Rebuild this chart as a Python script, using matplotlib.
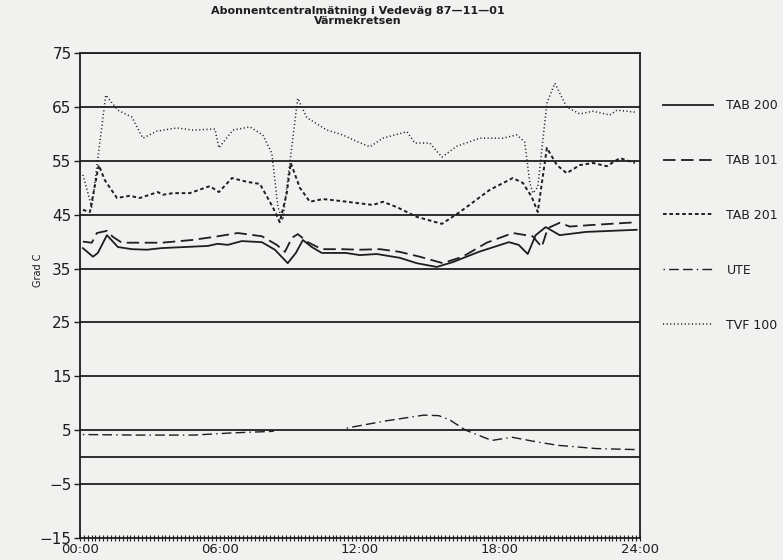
import numpy as np
import matplotlib
matplotlib.use("Agg")
import matplotlib.pyplot as plt
from matplotlib.ticker import MultipleLocator, FuncFormatter

plt.rcParams['lines.scale_dashes'] = False
plt.rcParams['font.family'] = ['DejaVu Sans']

# ---- data (hour of day, degrees C) ----
t_tvf = [0.13, 0.51, 1.11, 1.63, 2.23, 2.7, 3.3, 4.16, 4.84, 5.79, 5.96, 6.56, 7.29,
         7.84, 8.23, 8.49, 8.7, 9.34, 9.73, 10.59, 11.27, 11.92, 12.43, 12.99, 14.02,
         14.36, 15.0, 15.52, 16.16, 17.15, 18.13, 18.73, 19.07, 19.29, 19.42, 19.63,
         20.02, 20.36, 20.87, 21.43, 21.99, 22.72, 23.02, 23.87]
v_tvf = [52.4, 46.4, 67.2, 64.4, 63.1, 59.2, 60.5, 61.1, 60.7, 60.9, 57.4, 60.7, 61.3,
         59.8, 56.4, 46.4, 44.0, 66.6, 63.0, 60.7, 59.8, 58.5, 57.6, 59.2, 60.4,
         58.3, 58.3, 55.7, 57.7, 59.2, 59.2, 59.8, 58.5, 50.9, 49.0, 50.1,
         65.7, 69.4, 65.0, 63.7, 64.2, 63.5, 64.4, 64.0]

t_201 = [0.13, 0.43, 0.81, 1.07, 1.59, 2.14, 2.57, 3.34, 3.56, 3.99, 4.71, 5.57, 5.96,
         6.52, 7.16, 7.72, 8.27, 8.57, 8.87, 9.04, 9.43, 9.86, 10.42, 11.27, 12.56,
         12.99, 13.59, 14.44, 15.52, 16.29, 17.57, 18.56, 18.99, 19.37, 19.63, 20.02,
         20.45, 20.87, 21.43, 21.99, 22.59, 23.15, 23.79]
v_201 = [45.9, 45.5, 54.2, 51.4, 48.1, 48.5, 48.1, 49.2, 48.7, 49.0, 49.0, 50.3, 49.2,
         51.8, 51.1, 50.7, 46.4, 43.6, 49.0, 54.6, 50.0, 47.4, 47.9, 47.5, 46.8,
         47.4, 46.4, 44.6, 43.3, 45.5, 49.6, 51.8, 50.9, 48.3, 45.5, 57.4,
         54.2, 52.7, 54.2, 54.6, 54.0, 55.5, 54.6]

t_200 = [0.13, 0.56, 0.77, 1.16, 1.63, 2.23, 2.87, 3.51, 4.5, 5.49, 5.91, 6.34, 6.94,
         7.8, 8.36, 8.91, 9.26, 9.56, 9.94, 10.37, 11.4, 12.0, 12.73, 13.71, 14.44,
         15.3, 15.99, 17.1, 18.39, 18.81, 19.2, 19.54, 19.97, 20.57, 21.69, 23.87]
v_200 = [38.8, 37.2, 37.9, 41.2, 39.0, 38.6, 38.5, 38.8, 39.0, 39.2, 39.6, 39.4, 40.1,
         39.9, 38.5, 36.0, 37.9, 40.3, 39.0, 37.9, 37.9, 37.5, 37.7, 37.0, 36.0,
         35.3, 36.2, 38.1, 39.9, 39.4, 37.7, 41.2, 42.7, 41.2, 41.8, 42.2]

t_101 = [0.13, 0.51, 0.73, 1.16, 1.41, 1.8, 2.66, 3.51, 4.8, 5.79, 6.77, 7.8, 8.44,
         8.79, 9.09, 9.34, 9.77, 10.37, 11.23, 12.0, 12.86, 13.71, 14.57, 15.56,
         16.41, 17.44, 18.56, 19.41, 19.8, 20.06, 20.57, 21.0, 21.99, 23.87]
v_101 = [40.0, 39.8, 41.6, 42.0, 40.9, 39.8, 39.8, 39.8, 40.3, 40.9, 41.6, 41.0, 39.4,
         38.1, 40.7, 41.4, 39.9, 38.6, 38.6, 38.5, 38.6, 38.1, 37.2, 36.0,
         37.2, 39.8, 41.6, 41.0, 39.0, 42.5, 43.5, 42.8, 43.1, 43.6]

# outdoor temperature has a gap in the recording
t_ute = [0.13, 2.44, 4.89, 6.51, 8.31, np.nan, 11.44, 13.07, 14.74, 15.39, 15.86,
         16.54, 17.66, 18.52, 19.63, 20.49, 22.12, 23.91]
v_ute = [4.2, 4.1, 4.1, 4.5, 4.8, np.nan, 5.4, 6.7, 7.8, 7.7, 6.9,
         5.0, 3.1, 3.7, 2.8, 2.2, 1.6, 1.4]

gridvals = [75, 65, 55, 45, 35, 25, 15, 5, 0, -5]
yticks = [75, 65, 55, 45, 35, 25, 15, 5, -5, -15]
xticks = [0, 6, 12, 18, 24]

ink = '#1e1e1e'
paper = '#f1f1ef'

fig = plt.figure(figsize=(7.83, 5.6), dpi=100, facecolor=paper)
ax = fig.add_axes([0.102, 0.0393, 0.715, 0.866])
ax.set_facecolor(paper)

for g in gridvals:
    ax.axhline(g, color=ink, lw=1.3, zorder=1)

ax.plot(t_200, v_200, color=ink, lw=1.3, label='TAB 200')
ax.plot(t_101, v_101, color=ink, lw=1.3, dashes=(9, 4), label='TAB 101')
ax.plot(t_201, v_201, color=ink, lw=1.4, dashes=(2.6, 2.0), label='TAB 201')
ax.plot(t_ute, v_ute, color=ink, lw=1.0, dashes=(1, 3, 7, 3, 7, 3), label='UTE')
ax.plot(t_tvf, v_tvf, color=ink, lw=1.1, dashes=(0.8, 1.8), label='TVF 100')

ax.set_xlim(0, 24)
ax.set_ylim(-15, 75)
ax.set_yticks(yticks)
ax.set_xticks(xticks)
ax.xaxis.set_minor_locator(MultipleLocator(1 / 6))
ax.xaxis.set_major_formatter(FuncFormatter(lambda v, p: '%02d:00' % int(v)))
ax.tick_params(axis='y', direction='out', length=4, width=1, colors=ink, labelsize=11, pad=2)
ax.tick_params(axis='x', which='both', direction='inout', length=5, width=0.8,
               colors=ink, labelsize=9.5, pad=1)
for s in ax.spines.values():
    s.set_color(ink)
    s.set_linewidth(1.3)

ax.set_ylabel('Grad C', fontsize=7, color=ink)
ax.yaxis.set_label_coords(-0.065, 0.553)

fig.suptitle('Abonnentcentralmätning i Vedeväg 87—11—01\nVärmekretsen',
             x=0.457, y=0.99, fontsize=8, fontweight='bold', color=ink, linespacing=1.0)

leg = ax.legend(loc='upper left', bbox_to_anchor=(1.041, 0.905), frameon=False,
                fontsize=9, handlelength=4, handletextpad=1.1, labelspacing=3.35,
                borderpad=0, borderaxespad=0)
for txt in leg.get_texts():
    txt.set_color(ink)

fig.savefig('out.png', dpi=100, facecolor=paper)
